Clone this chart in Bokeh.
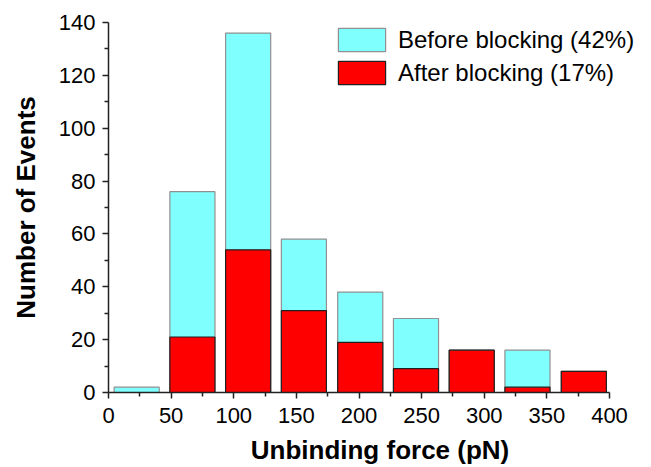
from bokeh.plotting import figure
from bokeh.models import ColumnDataSource, Range1d, Legend, LegendItem, FixedTicker
from bokeh.embed import file_html
from bokeh.resources import INLINE

centers = [22.5, 67, 111.5, 156, 201, 245.5, 290, 334.5, 379.5]
before = [2, 76, 136, 58, 38, 28, 16, 16, 8]
after = [0, 21, 54, 31, 19, 9, 16, 2, 8]
x_ticks = [0, 50, 100, 150, 200, 250, 300, 350, 400]
y_ticks = [0, 20, 40, 60, 80, 100, 120, 140]

src = ColumnDataSource(dict(x=centers, before=before, after=after))

left, right_px = 108, 609
x_end = 400 * (651 - left) / (right_px - left)

p = figure(width=651, height=467, output_backend="svg", toolbar_location=None,
           x_range=Range1d(0, x_end), y_range=Range1d(0, 140),
           min_border_left=left, min_border_right=0, min_border_top=22, min_border_bottom=75)
p.outline_line_color = None
p.grid.visible = False
p.background_fill_color = "white"

r1 = p.vbar(x="x", top="before", bottom=0, width=36, source=src,
            fill_color="#80FFFF", line_color="#909090", line_width=1.2)
r2 = p.vbar(x="x", top="after", bottom=0, width=36, source=src,
            fill_color="#FF0000", line_color="#202020", line_width=1.2)

font = "Liberation Sans"
for ax in (p.xaxis[0], p.yaxis[0]):
    ax.axis_line_color = "#222222"
    ax.axis_line_width = 1.5
    ax.major_tick_line_color = "#222222"
    ax.minor_tick_line_color = "#222222"
    ax.major_tick_line_width = 1.5
    ax.minor_tick_line_width = 1.5
    ax.major_tick_out = 6
    ax.major_tick_in = 0
    ax.minor_tick_out = 4
    ax.minor_tick_in = 0
    ax.major_label_text_font = font
    ax.major_label_text_font_size = "22px"
    ax.major_label_text_color = "black"
    ax.axis_label_text_font = font
    ax.axis_label_text_font_size = "26px"
    ax.axis_label_text_font_style = "bold"
    ax.axis_label_text_color = "black"

p.xaxis[0].bounds = (0, 400)
p.xaxis[0].ticker = FixedTicker(ticks=x_ticks, minor_ticks=[25 + 50 * i for i in range(8)])
p.yaxis[0].ticker = FixedTicker(ticks=y_ticks, minor_ticks=[10 + 20 * i for i in range(7)])
p.xaxis[0].axis_label = "Unbinding force (pN)"
p.yaxis[0].axis_label = "Number of Events"
p.xaxis[0].axis_label_standoff = 9
p.yaxis[0].axis_label_standoff = 15
p.xaxis[0].major_label_standoff = 9
p.yaxis[0].major_label_standoff = 7

legend = Legend(items=[LegendItem(label="Before blocking (42%)", renderers=[r1]),
                       LegendItem(label="After blocking (17%)", renderers=[r2])],
                location=(224, 305))
legend.padding = 0
legend.margin = 0
legend.spacing = 4
legend.glyph_width = 59
legend.glyph_height = 29
legend.label_standoff = 7
legend.border_line_color = None
legend.background_fill_alpha = 0
legend.label_text_font = font
legend.label_text_font_size = "24px"
legend.label_text_color = "black"
p.add_layout(legend, "center")

open("out.html", "w").write(file_html(p, INLINE))
